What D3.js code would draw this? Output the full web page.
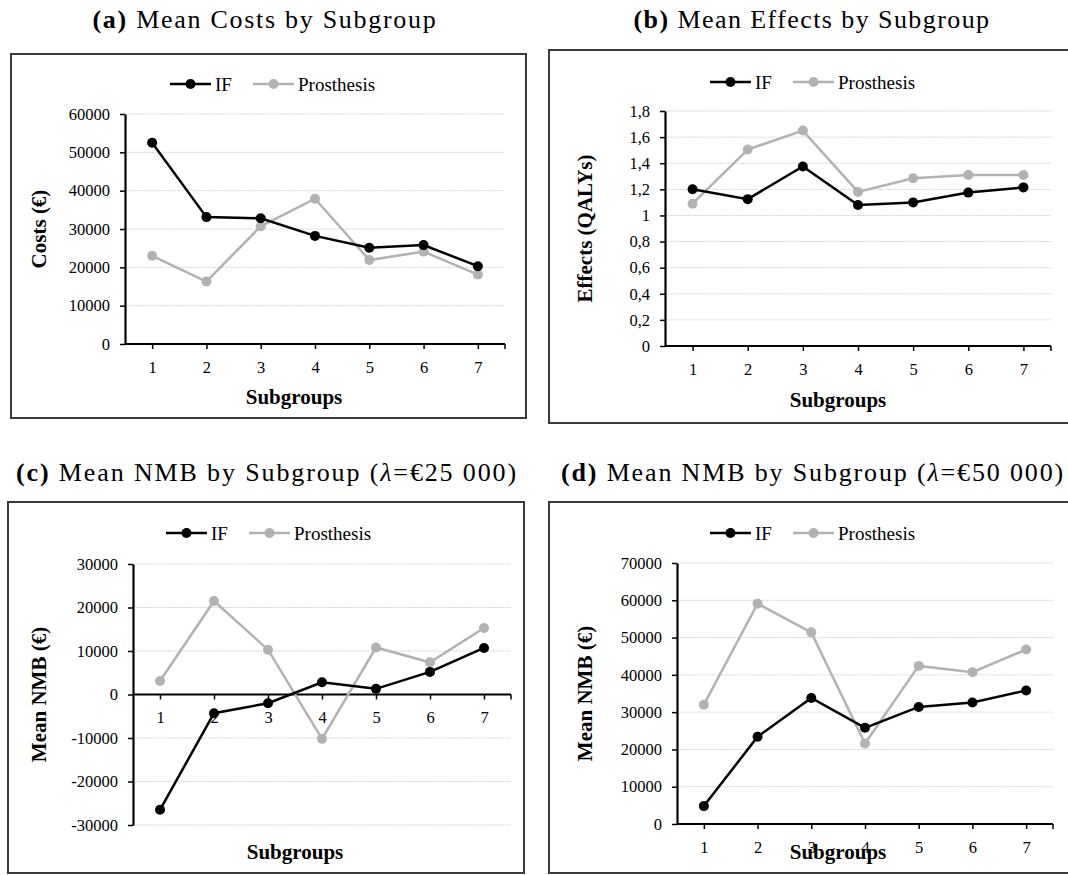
<!DOCTYPE html>
<html>
<head>
<meta charset="utf-8">
<script src="https://cdn.jsdelivr.net/npm/d3@7"></script>
<style>
  html, body { margin: 0; padding: 0; background: #fff; }
  svg { display: block; }
</style>
</head>
<body>
<svg id="fig" width="1068" height="875"></svg>
<script>
// Subgroup categories shared by all four panels
const subgroups = [1, 2, 3, 4, 5, 6, 7];
const seriesNames = ["IF", "Prosthesis"];

// (a) mean costs (€)
const costsIF = [52500, 33100, 32800, 28200, 25100, 25800, 20300];
const costsProsthesis = [23000, 16300, 30700, 37900, 21900, 24100, 18100];

// (b) mean effects (QALYs)
const effectsIF = [1.20, 1.125, 1.375, 1.08, 1.10, 1.175, 1.215];
const effectsProsthesis = [1.09, 1.505, 1.65, 1.18, 1.285, 1.31, 1.31];

// (c) mean NMB at λ = €25 000
const nmb25IF = [-26500, -4300, -2000, 2800, 1300, 5200, 10700];
const nmb25Prosthesis = [3100, 21500, 10300, -10200, 10800, 7400, 15300];

// (d) mean NMB at λ = €50 000
const nmb50IF = [4800, 23400, 33800, 25800, 31400, 32600, 35800];
const nmb50Prosthesis = [32000, 59100, 51400, 21600, 42400, 40700, 46800];

// y-axis tick values
const costTicks = [0, 10000, 20000, 30000, 40000, 50000, 60000];
const effectTicks = [0, 0.2, 0.4, 0.6, 0.8, 1, 1.2, 1.4, 1.6, 1.8];
const nmb25Ticks = [-30000, -20000, -10000, 0, 10000, 20000, 30000];
const nmb50Ticks = [0, 10000, 20000, 30000, 40000, 50000, 60000, 70000];

const svg = d3.select("#fig");
const serif = "'Liberation Serif', 'Times New Roman', serif";
const colors = { IF: "#000000", Prosthesis: "#b2b2b2" };
const commaFmt = v => String(+v.toFixed(1)).replace(".", ",");

const panels = [
  {
    letter: "(a)", title: " Mean Costs by Subgroup", titleX: 265, titleY: 28, titleW: 345,
    frame: [11, 54, 526, 418],
    x0: 125, x1: 505, yTop: 114, yBottom: 344,
    domain: [0, 60000], ticks: costTicks, fmt: d => d,
    ifVals: costsIF, prVals: costsProsthesis,
    yLabel: "Costs (€)", yLabelX: 39, subX: 294, subY: 404, legendY: 84, legendX: 170
  },
  {
    letter: "(b)", title: " Mean Effects by Subgroup", titleX: 812, titleY: 28, titleW: 357,
    frame: [549, 50, 1080, 423],
    x0: 665, x1: 1051, yTop: 111, yBottom: 346,
    domain: [0, 1.8], ticks: effectTicks, fmt: commaFmt,
    ifVals: effectsIF, prVals: effectsProsthesis,
    yLabel: "Effects (QALYs)", yLabelX: 585, subX: 838, subY: 407, legendY: 82, legendX: 710
  },
  {
    letter: "(c)", title: " Mean NMB by Subgroup (", lambda: "25 000)", titleX: 267, titleY: 481, titleW: 502,
    frame: [8, 502, 524, 873],
    x0: 133, x1: 511, yTop: 564, yBottom: 825,
    domain: [-30000, 30000], ticks: nmb25Ticks, fmt: d => d,
    ifVals: nmb25IF, prVals: nmb25Prosthesis,
    yLabel: "Mean NMB (€)", yLabelX: 39, subX: 295, subY: 859, legendY: 533, legendX: 166
  },
  {
    letter: "(d)", title: " Mean NMB by Subgroup (", lambda: "50 000)", titleX: 813, titleY: 481, titleW: 504,
    frame: [549, 502, 1080, 873],
    x0: 677, x1: 1053, yTop: 563, yBottom: 824,
    domain: [0, 70000], ticks: nmb50Ticks, fmt: d => d,
    ifVals: nmb50IF, prVals: nmb50Prosthesis,
    yLabel: "Mean NMB (€)", yLabelX: 585, subX: 838, subY: 859, legendY: 533, legendX: 710
  }
];

panels.forEach(p => {
  const g = svg.append("g");

  // caption above the panel, spaced out to its set width
  const t = g.append("text")
    .attr("x", p.titleX).attr("y", p.titleY)
    .attr("text-anchor", "middle")
    .style("font-family", serif).style("font-size", "26px").attr("fill", "#000");
  t.append("tspan").attr("font-weight", "bold").text(p.letter);
  t.append("tspan").text(p.title);
  if (p.lambda) {
    t.append("tspan").attr("font-style", "italic").text("λ");
    t.append("tspan").text("=€" + p.lambda);
  }
  const natural = t.node().getComputedTextLength();
  const nChars = t.text().length;
  const spacing = Math.max(0, (p.titleW - natural) / nChars);
  t.style("letter-spacing", spacing + "px");

  // panel frame
  const [fx0, fy0, fx1, fy1] = p.frame;
  g.append("rect")
    .attr("x", fx0).attr("y", fy0)
    .attr("width", fx1 - fx0).attr("height", fy1 - fy0)
    .attr("fill", "#fff").attr("stroke", "#3a3a3a").attr("stroke-width", 2);

  const x = d3.scalePoint().domain(subgroups).range([p.x0, p.x1]).padding(0.5);
  const y = d3.scaleLinear().domain(p.domain).range([p.yBottom, p.yTop]);
  const y0 = y(Math.max(0, p.domain[0]));

  // dotted gridlines
  g.append("g").selectAll("line")
    .data(p.ticks.filter(v => v !== 0 || p.domain[0] !== 0))
    .join("line")
    .attr("x1", p.x0).attr("x2", p.x1)
    .attr("y1", d => y(d)).attr("y2", d => y(d))
    .attr("stroke", "#cfcfcf").attr("stroke-width", 1)
    .attr("stroke-dasharray", "1.5,1");

  // y axis
  const yAxis = g.append("g")
    .attr("transform", `translate(${p.x0},0)`)
    .call(d3.axisLeft(y).tickValues(p.ticks).tickFormat(p.fmt).tickSizeInner(5).tickSizeOuter(0).tickPadding(10));
  yAxis.select(".domain").attr("stroke", "#000").attr("stroke-width", 2.2);
  yAxis.selectAll(".tick line").attr("stroke", "#000").attr("stroke-width", 1.5);
  yAxis.selectAll(".tick text")
    .style("font-family", serif).style("font-size", "16.5px").attr("fill", "#000");

  // x axis along the zero line
  const xAxis = g.append("g")
    .attr("transform", `translate(0,${y0})`)
    .call(d3.axisBottom(x).tickSizeInner(5).tickSizeOuter(0).tickPadding(12));
  xAxis.select(".domain").remove();
  xAxis.append("line")
    .attr("x1", p.x0).attr("x2", p.x1).attr("y1", 0).attr("y2", 0)
    .attr("stroke", "#000").attr("stroke-width", 2.2);
  xAxis.append("line")
    .attr("x1", p.x1).attr("x2", p.x1).attr("y1", 0).attr("y2", 5)
    .attr("stroke", "#000").attr("stroke-width", 1.5);
  xAxis.selectAll(".tick line").attr("stroke", "#000").attr("stroke-width", 1.5);
  xAxis.selectAll(".tick text")
    .style("font-family", serif).style("font-size", "16.5px").attr("fill", "#000");

  // axis titles
  g.append("text")
    .attr("transform", `translate(${p.yLabelX},${(p.yTop + p.yBottom) / 2}) rotate(-90)`)
    .attr("text-anchor", "middle").attr("dominant-baseline", "central")
    .style("font-family", serif).style("font-size", "21px").attr("font-weight", "bold")
    .text(p.yLabel);
  g.append("text")
    .attr("x", p.subX).attr("y", p.subY)
    .attr("text-anchor", "middle")
    .style("font-family", serif).style("font-size", "21px").attr("font-weight", "bold")
    .text("Subgroups");

  // series lines and markers (Prosthesis below IF)
  const line = d3.line().x((d, i) => x(subgroups[i])).y(d => y(d));
  [["Prosthesis", p.prVals], ["IF", p.ifVals]].forEach(([name, vals]) => {
    g.append("path").datum(vals)
      .attr("d", line).attr("fill", "none")
      .attr("stroke", colors[name]).attr("stroke-width", 2.5);
    g.append("g").selectAll("circle").data(vals).join("circle")
      .attr("cx", (d, i) => x(subgroups[i])).attr("cy", d => y(d))
      .attr("r", 5).attr("fill", colors[name]);
  });

  // legend
  const lg = g.append("g").attr("transform", `translate(${p.legendX},${p.legendY})`);
  seriesNames.forEach((name, i) => {
    const ox = i * 83;
    lg.append("line").attr("x1", ox).attr("x2", ox + 41).attr("y1", 0).attr("y2", 0)
      .attr("stroke", colors[name]).attr("stroke-width", 2.5);
    lg.append("circle").attr("cx", ox + 20.5).attr("cy", 0).attr("r", 5).attr("fill", colors[name]);
    lg.append("text").attr("x", ox + 45).attr("y", 0)
      .attr("dominant-baseline", "central")
      .style("font-family", serif).style("font-size", "19px").attr("fill", "#000")
      .text(name);
  });
});
</script>
</body>
</html>
